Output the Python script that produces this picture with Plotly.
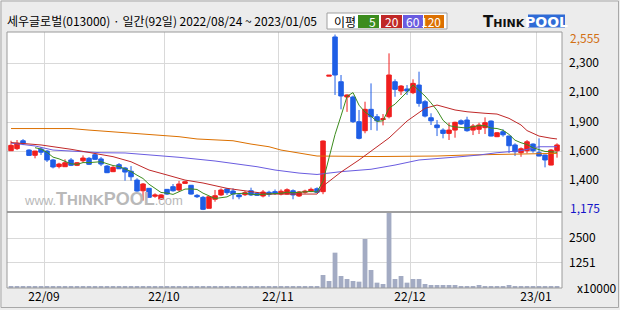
import plotly.graph_objects as go
import pandas as pd

# ---------------- data ----------------
opens = [1642, 1658, 1720, 1647, 1606, 1655, 1639, 1569, 1517, 1516,
         1569, 1527, 1563, 1582, 1610, 1577, 1521, 1477, 1532, 1506,
         1480, 1411, 1327, 1346, 1284, 1260, 1338, 1359, 1333, 1385,
         1370, 1291, 1275, 1189, 1260, 1294, 1341, 1325, 1294, 1296,
         1327, 1307, 1286, 1315, 1320, 1301, 1301, 1327, 1286, 1315,
         1323, 1343, 1320, 2228, 2536, 2184, 2064, 2064, 1870, 1799,
         1967, 1909, 1887, 1909, 2184, 2111, 2127, 2098, 2158, 2027,
         1901, 1844, 1804, 1778, 1804, 1877, 1883, 1804, 1810, 1823,
         1875, 1752, 1791, 1757, 1687, 1626, 1642, 1694, 1626, 1608,
         1529, 1642]
highs = [1720, 1726, 1733, 1653, 1641, 1671, 1647, 1577, 1547, 1574,
         1584, 1553, 1605, 1592, 1624, 1592, 1529, 1521, 1545, 1514,
         1521, 1425, 1388, 1349, 1307, 1300, 1341, 1380, 1404, 1404,
         1372, 1301, 1286, 1280, 1333, 1346, 1349, 1346, 1307, 1325,
         1351, 1317, 1333, 1327, 1337, 1338, 1346, 1338, 1325, 1335,
         1352, 1354, 1722, 2235, 2555, 2237, 2085, 2075, 1962, 2027,
         2171, 1930, 1930, 2407, 2203, 2158, 2158, 2203, 2263, 2040,
         1936, 1883, 1818, 1862, 1870, 1888, 1909, 1852, 1862, 1904,
         1880, 1789, 1810, 1760, 1700, 1668, 1726, 1700, 1739, 1610,
         1655, 1700]
lows = [1640, 1647, 1686, 1600, 1582, 1608, 1553, 1503, 1503, 1514,
        1521, 1521, 1547, 1529, 1569, 1521, 1466, 1474, 1498, 1406,
        1406, 1320, 1249, 1275, 1272, 1255, 1294, 1320, 1320, 1384,
        1297, 1270, 1175, 1189, 1241, 1286, 1294, 1260, 1260, 1286,
        1286, 1286, 1275, 1280, 1294, 1291, 1297, 1260, 1278, 1304,
        1315, 1309, 1300, 2228, 2080, 1967, 1947, 1860, 1731, 1779,
        1804, 1799, 1841, 1896, 2066, 2080, 2080, 2087, 1988, 1904,
        1844, 1757, 1739, 1726, 1744, 1844, 1791, 1765, 1773, 1773,
        1755, 1749, 1752, 1624, 1600, 1594, 1621, 1626, 1598, 1511,
        1527, 1587]
closes = [1684, 1700, 1700, 1605, 1639, 1630, 1569, 1514, 1537, 1547,
          1527, 1547, 1584, 1535, 1574, 1537, 1469, 1511, 1500, 1474,
          1437, 1325, 1380, 1275, 1294, 1294, 1301, 1327, 1380, 1398,
          1301, 1280, 1181, 1280, 1288, 1333, 1312, 1301, 1280, 1312,
          1294, 1291, 1317, 1299, 1307, 1323, 1335, 1294, 1317, 1323,
          1338, 1315, 1718, 2235, 2237, 2072, 2080, 1870, 1739, 1967,
          1909, 1877, 1893, 2237, 2124, 2150, 2111, 2171, 2014, 1914,
          1877, 1823, 1778, 1804, 1865, 1852, 1799, 1836, 1844, 1862,
          1757, 1783, 1767, 1681, 1634, 1657, 1712, 1642, 1600, 1569,
          1647, 1687]
# volume in units of 10,000 shares
volumes = [70, 65, 75, 70, 60, 70, 80, 72, 65, 68,
           62, 60, 70, 66, 64, 68, 75, 62, 65, 70,
           78, 85, 75, 70, 62, 65, 64, 68, 70, 62,
           66, 64, 80, 75, 68, 66, 64, 62, 65, 62,
           64, 60, 66, 62, 60, 64, 68, 66, 62, 60,
           64, 70, 650, 350, 1767, 600, 450, 350, 317, 2450,
           900, 267, 200, 3750, 450, 600, 267, 450, 450, 200,
           150, 150, 150, 150, 150, 80, 80, 80, 150, 90,
           90, 90, 90, 150, 90, 90, 80, 80, 100, 90,
           80, 70]

# moving averages (candle index, price)
ma20_idx = [0, 2, 5, 10, 14, 17, 20, 23, 26, 29, 32, 36, 40, 43, 51, 52,
            55, 58, 63, 66, 69, 71, 74, 76, 79, 81, 83, 85, 86, 88, 90, 91]
ma20_val = [1706, 1700, 1687, 1653, 1621, 1595, 1555, 1490, 1451, 1411, 1388,
            1346, 1320, 1301, 1301, 1364, 1474, 1569, 1742, 1875, 1975, 2001,
            1962, 1948, 1936, 1930, 1896, 1844, 1800, 1757, 1740, 1734]
ma60_idx = [0, 2, 4, 7, 11, 15, 19, 23, 28, 34, 37, 41, 44, 48, 51, 55, 60,
            64, 68, 72, 75, 78, 81, 85, 88, 91]
ma60_val = [1702, 1690, 1679, 1647, 1634, 1626, 1624, 1610, 1590, 1561, 1543,
            1516, 1490, 1466, 1455, 1477, 1496, 1529, 1569, 1587, 1595, 1608,
            1626, 1642, 1673, 1673]
ma120_idx = [0, 10, 13, 19, 23, 28, 31, 37, 40, 43, 45, 48, 51, 61, 71, 76,
             81, 86, 91]
ma120_val = [1816, 1816, 1804, 1783, 1765, 1752, 1734, 1720, 1694, 1673, 1647,
             1626, 1600, 1596, 1600, 1608, 1613, 1621, 1621]

month_labels = ["22/09", "22/10", "22/11", "22/12", "23/01"]
month_first_idx = [6, 26, 45, 67, 88]
price_grid_vals = [2331, 2103, 1867, 1639, 1411]
price_grid_text = ["2,300", "2,100", "1,900", "1,600", "1,400"]
vol_grid_vals = [1251, 2500]
vol_grid_text = ["1251", "2500"]

title_text = "세우글로벌(013000) · 일간(92일) 2022/08/24 ~ 2023/01/05"

# ---------------- styling ----------------
RED = "#f01e1e"
BLUE = "#1f5ee6"
C5, C20, C60, C120 = "#3c8c1e", "#c02828", "#6a5ce0", "#dc7000"
VOLC = "#a3abc3"
GRID = "#d9d9d9"
BG = "#ececec"
FONT = "Noto Sans CJK KR"

W, H = 620, 310
ML, MR, MT, MB = 7, 58, 32, 22
PW, PH = W - ML - MR, H - MT - MB
SPLIT = 212  # pixel row separating price and volume panels


def px(x):
    return (x - ML) / PW


def py(y):
    return 1 - (y - MT) / PH


vol_top = py(SPLIT)
idx = list(range(len(closes)))
ma5 = pd.Series(closes).rolling(5).mean()

fig = go.Figure()
for xs, ys, col in [(ma120_idx, ma120_val, C120), (ma60_idx, ma60_val, C60),
                    (ma20_idx, ma20_val, C20), (idx, ma5, C5)]:
    fig.add_trace(go.Scatter(x=xs, y=ys, mode="lines", line=dict(color=col, width=1),
                             xaxis="x", yaxis="y", hoverinfo="skip"))

fig.add_trace(go.Candlestick(
    x=idx, open=opens, high=highs, low=lows, close=closes,
    increasing=dict(line=dict(color=RED, width=1), fillcolor=RED),
    decreasing=dict(line=dict(color=BLUE, width=1), fillcolor=BLUE),
    whiskerwidth=0, xaxis="x", yaxis="y"))

fig.add_trace(go.Bar(x=idx, y=volumes, marker=dict(color=VOLC, line=dict(width=0)),
                     xaxis="x", yaxis="y2"))

fig.update_layout(
    width=W, height=H, margin=dict(l=ML, r=MR, t=MT, b=MB, pad=0),
    paper_bgcolor=BG, plot_bgcolor="white", showlegend=False,
    bargap=0.2, boxgap=0.25, boxgroupgap=0, hovermode=False,
    font=dict(family=FONT, size=12, color="#000"),
    xaxis=dict(range=[-0.67, 91.83], anchor="y2",
               tickvals=[i - 0.5 for i in month_first_idx], ticktext=month_labels,
               showgrid=True, gridcolor=GRID, zeroline=False, ticks="",
               rangeslider=dict(visible=False), fixedrange=True,
               tickfont=dict(size=12, family=FONT)),
    yaxis=dict(domain=[vol_top, 1], range=[1160, 2575], side="right", anchor="x",
               tickvals=price_grid_vals, ticktext=price_grid_text,
               showgrid=True, gridcolor=GRID, zeroline=False, ticks="",
               ticklabelstandoff=6, fixedrange=True,
               tickfont=dict(size=12, family=FONT)),
    yaxis2=dict(domain=[0, vol_top], range=[0, 3800], side="right", anchor="x",
                tickvals=vol_grid_vals, ticktext=vol_grid_text,
                showgrid=True, gridcolor=GRID, zeroline=False, ticks="",
                ticklabelstandoff=6, fixedrange=True,
                tickfont=dict(size=12, family=FONT)),
)

shapes = [
    # outer frame
    dict(type="rect", xref="paper", yref="paper", x0=px(1), x1=px(618.5), y0=py(307.5),
         y1=py(1), line=dict(color="#a8a8a8", width=1), layer="below"),
    # panel frames
    dict(type="rect", xref="paper", yref="paper", x0=0, x1=1, y0=vol_top, y1=1,
         line=dict(color="#9a9a9a", width=1), layer="above"),
    dict(type="rect", xref="paper", yref="paper", x0=0, x1=1, y0=0, y1=vol_top,
         line=dict(color="#9a9a9a", width=1), layer="above"),
    dict(type="line", xref="paper", yref="paper", x0=0, x1=1, y0=vol_top, y1=vol_top,
         line=dict(color="#8a8a8a", width=1.2), layer="above"),
    # legend box
    dict(type="rect", xref="paper", yref="paper", x0=px(327), x1=px(447), y0=py(29),
         y1=py(13), fillcolor="white", line=dict(color="#a0a0a0", width=1)),
    # THINKPOOL logo blue box
    dict(type="rect", xref="paper", yref="paper", x0=px(528), x1=px(565), y0=py(27.5),
         y1=py(14.5), fillcolor="#2f6bd6", line=dict(width=0)),
]
legend_items = [("5", C5, 358, 379), ("20", C20, 381, 402), ("60", C60, 403, 423),
                ("120", C120, 424, 444)]
annotations = [
    dict(text=title_text, xref="paper", yref="paper", x=px(5), y=py(20),
         xanchor="left", yanchor="middle", showarrow=False,
         font=dict(size=12, family=FONT, color="#000")),
    dict(text="이평", xref="paper", yref="paper", x=px(332), y=py(21),
         xanchor="left", yanchor="middle", showarrow=False,
         font=dict(size=12, family=FONT, color="#000")),
]
for lab, col, a, b in legend_items:
    shapes.append(dict(type="rect", xref="paper", yref="paper", x0=px(a), x1=px(b),
                       y0=py(28), y1=py(15), fillcolor=col, line=dict(width=0)))
    annotations.append(dict(text=lab, xref="paper", yref="paper", x=px(b - 1), y=py(21.5),
                            xanchor="right", yanchor="middle", showarrow=False,
                            font=dict(size=12, family=FONT, color="white")))

annotations += [
    dict(text="<b>T<span style='font-size:11px'>HINK</span></b>", xref="paper",
         yref="paper", x=px(481), y=py(21.5), xanchor="left", yanchor="middle",
         showarrow=False, font=dict(size=15, family="DejaVu Sans", color="#111")),
    dict(text="<b>POOL</b>", xref="paper", yref="paper", x=px(546.5), y=py(21.5),
         xanchor="center", yanchor="middle", showarrow=False,
         font=dict(size=14, family="DejaVu Sans", color="white")),
    # watermark
    dict(text="www.<b><span style='font-size:18px'>T</span><span style='font-size:15px'>HINK</span>"
              "<span style='font-size:18px'>POOL</span></b>.com",
         xref="paper", yref="paper", x=px(22), y=py(211), xanchor="left", yanchor="bottom",
         showarrow=False, font=dict(size=13, family="Liberation Sans", color="#b9b9b9")),
    # max / min price labels
    dict(text="2,555", xref="paper", yref="y", x=1, y=max(highs), xanchor="left",
         yanchor="middle", xshift=6, yshift=-3, showarrow=False,
         font=dict(size=12, family=FONT, color="#d27014")),
    dict(text="1,175", xref="paper", yref="y", x=1, y=min(lows), xanchor="left",
         yanchor="middle", xshift=6, yshift=3, showarrow=False,
         font=dict(size=12, family=FONT, color="#1414c8")),
    dict(text="x10000", xref="paper", yref="paper", x=px(575), y=py(287),
         xanchor="left", yanchor="middle", showarrow=False,
         font=dict(size=12, family=FONT, color="#000")),
]
fig.update_layout(shapes=shapes, annotations=annotations)

fig.write_html("out.html")
